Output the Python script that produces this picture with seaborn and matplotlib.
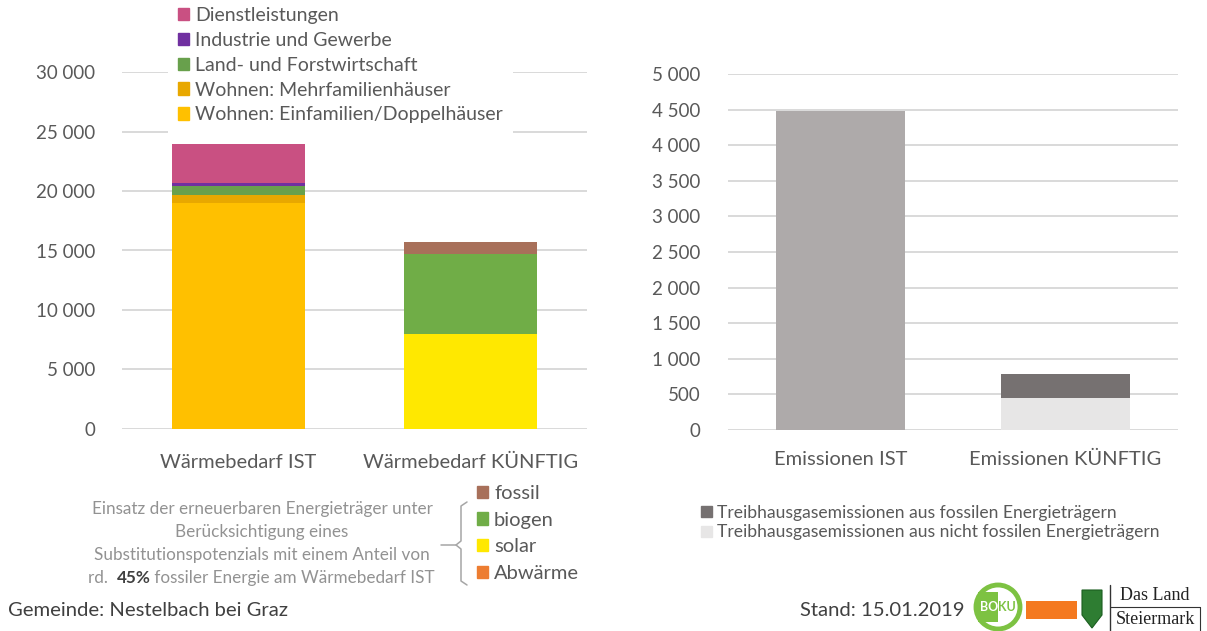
import numpy as np
import pandas as pd
import matplotlib
matplotlib.use("Agg")
import matplotlib.pyplot as plt
import seaborn as sns
from matplotlib.patches import Patch, Rectangle, Ellipse, Polygon
from matplotlib.lines import Line2D
from matplotlib.ticker import FuncFormatter, MultipleLocator

# --- data ---
heat_cats = ["Wärmebedarf IST", "Wärmebedarf KÜNFTIG"]
efh = [18970, 0]
mfh = [700, 0]
landforst = [760, 0]
industrie = [230, 0]
dienst = [3300, 0]
solar = [0, 7950]
biogen = [0, 6750]
fossil = [0, 1040]
abwaerme = [0, 0]

emis_cats = ["Emissionen IST", "Emissionen KÜNFTIG"]
emis_ist = [4480, 0]
emis_nonfossil = [0, 450]
emis_fossil = [0, 336]

# stacking order bottom -> top
heat_stack = [
    ("Wohnen: Einfamilien/Doppelhäuser", efh, "#ffc000"),
    ("Wohnen: Mehrfamilienhäuser", mfh, "#e8a800"),
    ("Land- und Forstwirtschaft", landforst, "#68a04c"),
    ("Industrie und Gewerbe", industrie, "#7030a0"),
    ("Dienstleistungen", dienst, "#c95082"),
    ("solar", solar, "#ffe800"),
    ("biogen", biogen, "#70ad47"),
    ("fossil", fossil, "#a8705a"),
    ("Abwärme", abwaerme, "#ed7d31"),
]
emis_stack = [
    ("Emissionen gesamt", emis_ist, "#aeaaaa"),
    ("Treibhausgasemissionen aus nicht fossilen Energieträgern", emis_nonfossil, "#e7e6e6"),
    ("Treibhausgasemissionen aus fossilen Energieträgern", emis_fossil, "#767171"),
]

TXT = "#595959"
W, H = 1207, 631

sns.set_style("white")
plt.rcParams["font.family"] = ["Lato", "DejaVu Sans"]

fig = plt.figure(figsize=(W / 100, H / 100), dpi=100)


def fx(x):
    return x / W


def fy(y):
    return 1 - y / H


def stacked(ax, cats, stack):
    df = pd.DataFrame({name: vals for name, vals, _ in stack}, index=cats)
    cum = df.cumsum(axis=1)
    # draw tallest cumulative first, lower layers on top
    for name, _, col in reversed(stack):
        sns.barplot(x=cats, y=cum[name].values, color=col, saturation=1,
                    width=0.57, linewidth=0, errorbar=None, ax=ax, zorder=3)


def style_axis(ax, ymax, step, pad_y, pad_x, fs_y, fs_x):
    ax.set_ylim(0, ymax)
    ax.set_xlim(-0.5, 1.5)
    ax.yaxis.set_major_locator(MultipleLocator(step))
    ax.yaxis.set_major_formatter(FuncFormatter(lambda v, p: f"{int(v):,}".replace(",", " ")))
    ax.grid(axis="y", color="#d9d9d9", linewidth=1.4, zorder=0)
    ax.set_axisbelow(True)
    sns.despine(ax=ax, left=True, bottom=True)
    ax.tick_params(axis="both", length=0)
    ax.tick_params(axis="y", pad=pad_y, labelsize=fs_y, labelcolor=TXT)
    ax.tick_params(axis="x", pad=pad_x, labelsize=fs_x, labelcolor=TXT)
    ax.set_xlabel("")
    ax.set_ylabel("")


# left panel
ax1 = fig.add_axes([fx(122), fy(428.7), fx(587) - fx(122), fy(72.3) - fy(428.7)])
stacked(ax1, heat_cats, heat_stack)
style_axis(ax1, 30000, 5000, 19, 18, 13.5, 14.5)

leg_names = ["Dienstleistungen", "Industrie und Gewerbe", "Land- und Forstwirtschaft",
             "Wohnen: Mehrfamilienhäuser", "Wohnen: Einfamilien/Doppelhäuser"]
colmap = {n: c for n, _, c in heat_stack}
leg1 = ax1.legend([Patch(color=colmap[n]) for n in leg_names], leg_names,
                  loc="lower left", bbox_to_anchor=(fx(168), fy(133)),
                  bbox_transform=fig.transFigure, frameon=True, facecolor="white",
                  edgecolor="none", framealpha=1, fancybox=False, fontsize=14,
                  labelcolor=TXT, handlelength=0.6, handleheight=0.6,
                  handletextpad=0.3, labelspacing=0.4, borderpad=0.5, borderaxespad=0)
ax1.add_artist(leg1)

leg2_names = ["fossil", "biogen", "solar", "Abwärme"]
fig.legend([Patch(color=colmap[n]) for n in leg2_names], leg2_names,
           loc="upper left", bbox_to_anchor=(fx(477), fy(485)),
           bbox_transform=fig.transFigure, frameon=False, fontsize=14.5,
           labelcolor=TXT, handlelength=0.55, handleheight=0.55,
           handletextpad=0.3, labelspacing=0.48, borderpad=0, borderaxespad=0)

# right panel
ax2 = fig.add_axes([fx(728), fy(430), fx(1178) - fx(728), fy(74) - fy(430)])
stacked(ax2, emis_cats, emis_stack)
style_axis(ax2, 5000, 500, 20, 15, 13.5, 14.5)

emap = {n: c for n, _, c in emis_stack}
leg3_names = ["Treibhausgasemissionen aus fossilen Energieträgern",
              "Treibhausgasemissionen aus nicht fossilen Energieträgern"]
fig.legend([Patch(color=emap[n]) for n in leg3_names], leg3_names,
           loc="upper left", bbox_to_anchor=(fx(701), fy(505)),
           bbox_transform=fig.transFigure, frameon=False, fontsize=12.6,
           labelcolor=TXT, handlelength=0.6, handleheight=0.6,
           handletextpad=0.3, labelspacing=0.2, borderpad=0, borderaxespad=0)

# annotation under left chart
NOTE = "#929292"
NFS = 12.3
note_lines = ["Einsatz der erneuerbaren Energieträger unter",
              "Berücksichtigung eines",
              "Substitutionspotenzials mit einem Anteil von"]
for line, y in zip(note_lines, [509, 532, 555]):
    fig.text(fx(262), fy(y), line, ha="center", va="center", fontsize=NFS, color=NOTE)
t1 = fig.text(fx(88), fy(578), "rd.  ", ha="left", va="center", fontsize=NFS, color=NOTE)
a2 = plt.annotate("45%", xy=(1, 0.5), xycoords=t1, ha="left", va="center",
                  fontsize=NFS, color="#404040", fontweight="bold")
plt.annotate(" fossiler Energie am Wärmebedarf IST", xy=(1, 0.5), xycoords=a2,
             ha="left", va="center", fontsize=NFS, color=NOTE)

# bracket
bx = [fx(v) for v in [467, 461, 461, 456, 461, 461, 467]]
by = [fy(v) for v in [502, 506, 541, 545, 549, 581, 585]]
fig.add_artist(Line2D(bx, by, color="#a6a6a6", lw=1.1))
fig.add_artist(Line2D([fx(441), fx(456)], [fy(545), fy(545)], color="#a6a6a6", lw=1.1))

# footer
fig.text(fx(8), fy(611), "Gemeinde: Nestelbach bei Graz", ha="left", va="center",
         fontsize=14.6, color="#404040")
fig.text(fx(965), fy(611), "Stand: 15.01.2019", ha="right", va="center",
         fontsize=14.6, color="#404040")

# logos (simplified)
fig.add_artist(Ellipse((fx(998), fy(607)), 44 / W, 44 / H, facecolor="white",
                       edgecolor="#7dc242", lw=3.5))
fig.add_artist(Rectangle((fx(978), fy(622)), 20 / W, 30 / H, facecolor="#7dc242",
                         edgecolor="none"))
fig.text(fx(998), fy(607), "BO", ha="right", va="center", fontsize=9,
         fontweight="bold", color="white", zorder=5)
fig.text(fx(998), fy(607), "KU", ha="left", va="center", fontsize=9,
         fontweight="bold", color="#7dc242", zorder=5)
fig.add_artist(Rectangle((fx(1026), fy(619)), 51 / W, 18 / H, facecolor="#f47920",
                         edgecolor="none"))
fig.add_artist(Polygon([(fx(1082), fy(590)), (fx(1102), fy(590)), (fx(1102), fy(615)),
                        (fx(1092), fy(628)), (fx(1082), fy(615))],
                       closed=True, facecolor="#2e7d32", edgecolor="#1b5e20", lw=0.8))
fig.add_artist(Line2D([fx(1110), fx(1110)], [fy(585), fy(631)], color="#333333", lw=1))
fig.add_artist(Line2D([fx(1110), fx(1200)], [fy(607), fy(607)], color="#333333", lw=0.8))
fig.add_artist(Line2D([fx(1200), fx(1200)], [fy(607), fy(631)], color="#333333", lw=0.8))
fig.text(fx(1155), fy(596), "Das Land", ha="center", va="center", fontsize=13,
         family="Liberation Serif", color="#222222")
fig.text(fx(1155), fy(620), "Steiermark", ha="center", va="center", fontsize=13,
         family="Liberation Serif", color="#222222")

fig.savefig("out.png", dpi=100)
